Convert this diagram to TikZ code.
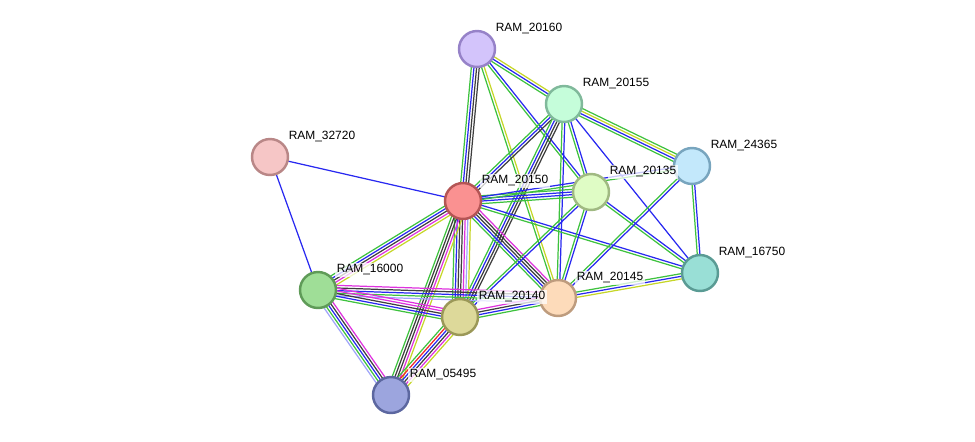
\documentclass[tikz,border=0pt]{standalone}
\usepackage{fontspec}
\setmainfont{Liberation Sans}
\usetikzlibrary{calc, backgrounds}

\begin{document}
\begin{tikzpicture}[
    x=0.02cm, y=-0.02cm,
    font=\fontsize{6.8}{8}\selectfont,
    protein/.style={circle, minimum size=0.72cm, line width=1.4pt, inner sep=0pt},
    lbl/.style={anchor=west, inner sep=0.8pt, fill=white, fill opacity=0.75, text opacity=1},
    edge/.style={line width=0.7pt},
]

% ===== Colors =====
% evidence channels
\definecolor{cgreen}{RGB}{62,194,62}
\definecolor{cblue}{RGB}{40,40,240}
\definecolor{cblack}{RGB}{62,62,62}
\definecolor{cmag}{RGB}{222,50,222}
\definecolor{cyell}{RGB}{198,214,40}
\definecolor{clblue}{RGB}{160,165,250}
\definecolor{cred}{RGB}{240,40,40}
% protein fills / borders
\definecolor{f20160}{RGB}{211,196,251} \definecolor{d20160}{RGB}{150,130,200}
\definecolor{f20155}{RGB}{197,253,218} \definecolor{d20155}{RGB}{128,185,155}
\definecolor{f32720}{RGB}{246,198,198} \definecolor{d32720}{RGB}{185,135,135}
\definecolor{f24365}{RGB}{195,232,251} \definecolor{d24365}{RGB}{120,165,190}
\definecolor{f20150}{RGB}{250,145,145} \definecolor{d20150}{RGB}{180,85,85}
\definecolor{f20135}{RGB}{223,252,197} \definecolor{d20135}{RGB}{160,185,130}
\definecolor{f16750}{RGB}{153,223,214} \definecolor{d16750}{RGB}{90,155,148}
\definecolor{f16000}{RGB}{159,222,151} \definecolor{d16000}{RGB}{95,155,88}
\definecolor{f20145}{RGB}{253,219,186} \definecolor{d20145}{RGB}{190,156,126}
\definecolor{f20140}{RGB}{221,217,154} \definecolor{d20140}{RGB}{155,152,88}
\definecolor{f05495}{RGB}{156,165,222} \definecolor{d05495}{RGB}{92,103,160}

\useasboundingbox (0,0) rectangle (975,441);

% ===== Proteins =====
% coordinates are in pixels of the 975 x 441 frame
\foreach \id/\x/\y in {20160/477/49, 20155/564/104, 32720/270/157, 24365/692/166,
                        20150/463/201, 20135/591/192, 16750/700/273, 16000/318/290,
                        20145/558/298, 20140/460/317, 05495/391/395} {
    \node[protein, fill=f\id, draw=d\id] (n\id) at (\x,\y) {};
    \node[lbl] (t\id) at ($(n\id)+(17,-20)$) {RAM\_\id};
}

% ===== Edges (parallel lines, one per evidence channel) =====
% #1, #2 nodes, #3 list of line colours
\def\bundle#1#2#3{%
    \foreach \c [count=\n] in {#3} {\xdef\nline{\n}}
    \foreach \c [count=\i] in {#3} {
        \pgfmathsetmacro\off{(\i-(\nline+1)/2)*1.5}
        \draw[edge, draw=\c] ($(#1.center)!\off pt!90:(#2.center)$) -- ($(#2.center)!\off pt!-90:(#1.center)$);
    }
}

\begin{pgfonlayer}{background}
\bundle{n20160}{n20150}{cgreen,cblue,cblack,cblack}
\bundle{n20160}{n20155}{cgreen,cblue,cyell}
\bundle{n20160}{n20135}{cgreen,cblue}
\bundle{n20160}{n20145}{cgreen,cyell}
\bundle{n20155}{n24365}{cgreen,cblue,cyell,cgreen}
\bundle{n20155}{n20135}{cgreen,cblue}
\bundle{n20155}{n16750}{cblue}
\bundle{n20155}{n20150}{cgreen,cblue,cblack}
\bundle{n20155}{n20140}{cgreen,cblue,cblack,cblack}
\bundle{n20155}{n20145}{cgreen,cblue}
\bundle{n32720}{n20150}{cblue}
\bundle{n32720}{n16000}{cblue}
\bundle{n20150}{n20135}{cgreen,cblue,cblue,cgreen}
\bundle{n20150}{n24365}{cgreen,cblue}
\bundle{n20150}{n16750}{cgreen,cblue}
\bundle{n20150}{n20145}{cgreen,cblue,cblack,cblack,cmag}
\bundle{n20150}{n16000}{cgreen,cblue,cblack,cmag,cyell}
\bundle{n20150}{n20140}{cgreen,cblue,cblack,cblack,cmag,clblue,cyell}
\bundle{n20150}{n05495}{cgreen,cblack,cblack,cmag,cyell}
\bundle{n20135}{n20140}{cgreen,cblue}
\bundle{n20135}{n20145}{cgreen,cblue}
\bundle{n20135}{n16750}{cgreen,cblue}
\bundle{n24365}{n16750}{cgreen,cblue}
\bundle{n24365}{n20145}{cgreen,cblue}
\bundle{n16750}{n20145}{cgreen,cblue,cyell}
\bundle{n16000}{n20145}{clblue,cgreen,cblue,cblack,cmag}
\bundle{n16000}{n20140}{cgreen,cblue,cblack,cmag,cmag}
\bundle{n16000}{n05495}{clblue,cgreen,cblue,cblack,cmag}
\bundle{n20140}{n20145}{cgreen,cblue,cblack,cmag}
\bundle{n20140}{n05495}{cgreen,cred,cblue,cblack,cmag,cyell}
\end{pgfonlayer}

\end{tikzpicture}
\end{document}
